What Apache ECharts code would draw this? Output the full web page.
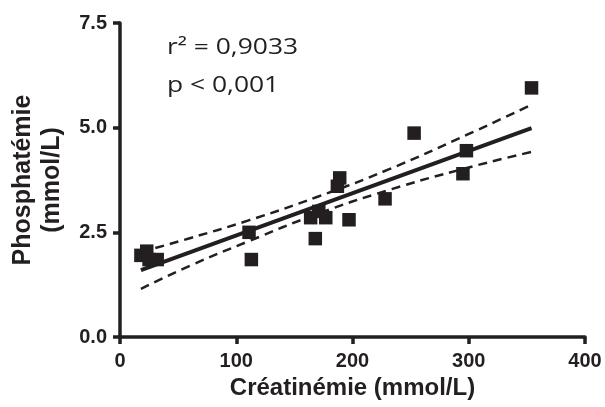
<!DOCTYPE html>
<html><head><meta charset="utf-8">
<script src="https://cdn.jsdelivr.net/npm/echarts@6/dist/echarts.min.js"></script>
<style>html,body{margin:0;padding:0;background:#fff}#c{width:605px;height:407px}</style>
</head><body><div id="c"></div>
<script>
const xTicks = [0, 100, 200, 300, 400];
const yTicks = [0, 2.5, 5, 7.5];
const creat = [18, 23, 25, 32, 111, 113, 164, 168, 171, 177, 187, 189, 197, 228, 253, 295, 298, 354];
const phos  = [1.95, 2.05, 1.85, 1.85, 2.5, 1.85, 2.85, 2.35, 3.0, 2.85, 3.6, 3.8, 2.8, 3.3, 4.87, 3.9, 4.45, 5.95];
const fitX = [18, 354];
const fitY = [1.6, 4.99];
const bandX = [18, 60, 110, 170, 230, 300, 354];
const upperY = [2.03, 2.36, 2.78, 3.35, 3.99, 4.85, 5.55];
const lowerY = [1.15, 1.70, 2.28, 2.94, 3.50, 4.05, 4.42];
const annot = ['r² = 0,9033', 'p < 0,001'];

const ink = '#231f20';
const chart = echarts.init(document.getElementById('c'));
const zip = (a, b) => a.map((v, i) => [v, b[i]]);
chart.setOption({
  animation: false,
  grid: {left: 120, right: 20, top: 23, bottom: 70},
  xAxis: {
    type: 'value', min: xTicks[0], max: xTicks[xTicks.length-1], interval: 100,
    name: 'Créatinémie (mmol/L)', nameLocation: 'middle', nameGap: 36,
    nameTextStyle: {fontFamily: 'Liberation Sans', fontWeight: 'bold', fontSize: 24, color: ink},
    axisLine: {lineStyle: {color: ink, width: 3.5}},
    axisTick: {show: true, length: 7, lineStyle: {color: ink, width: 3.5}},
    axisLabel: {fontFamily: 'Liberation Sans', fontWeight: 'bold', fontSize: 20, color: ink, margin: 14},
    splitLine: {show: false}
  },
  yAxis: {
    type: 'value', min: yTicks[0], max: yTicks[yTicks.length-1], interval: 2.5,
    name: 'Phosphatémie\n(mmol/L)', nameLocation: 'middle', nameGap: 53, nameRotate: 90,
    nameTextStyle: {fontFamily: 'Liberation Sans', fontWeight: 'bold', fontSize: 25, color: ink, lineHeight: 29},
    axisLine: {lineStyle: {color: ink, width: 3.5}},
    axisTick: {show: true, length: 7, lineStyle: {color: ink, width: 3.5}},
    axisLabel: {fontFamily: 'Liberation Sans', fontWeight: 'bold', fontSize: 20, color: ink, margin: 13,
      formatter: v => v.toFixed(1)},
    splitLine: {show: false}
  },
  series: [
    {type: 'line', data: zip(bandX, upperY), smooth: true, symbol: 'none',
     lineStyle: {color: ink, width: 2.5, type: [9, 6]}, z: 2},
    {type: 'line', data: zip(bandX, lowerY), smooth: true, symbol: 'none',
     lineStyle: {color: ink, width: 2.5, type: [9, 6]}, z: 2},
    {type: 'line', data: zip(fitX, fitY), symbol: 'none',
     lineStyle: {color: ink, width: 4}, z: 3},
    {type: 'scatter', data: zip(creat, phos), symbol: 'rect', symbolSize: 13.5,
     itemStyle: {color: ink, opacity: 1}, z: 4}
  ],
  graphic: [
    {type: 'text', x: 167, y: 37, scaleX: 1.2, style: {text: annot[0], fontFamily: 'Open Sans', fontSize: 22, fill: ink}},
    {type: 'text', x: 167, y: 75, scaleX: 1.2, style: {text: annot[1], fontFamily: 'Open Sans', fontSize: 22, fill: ink}}
  ]
});
</script></body></html>
